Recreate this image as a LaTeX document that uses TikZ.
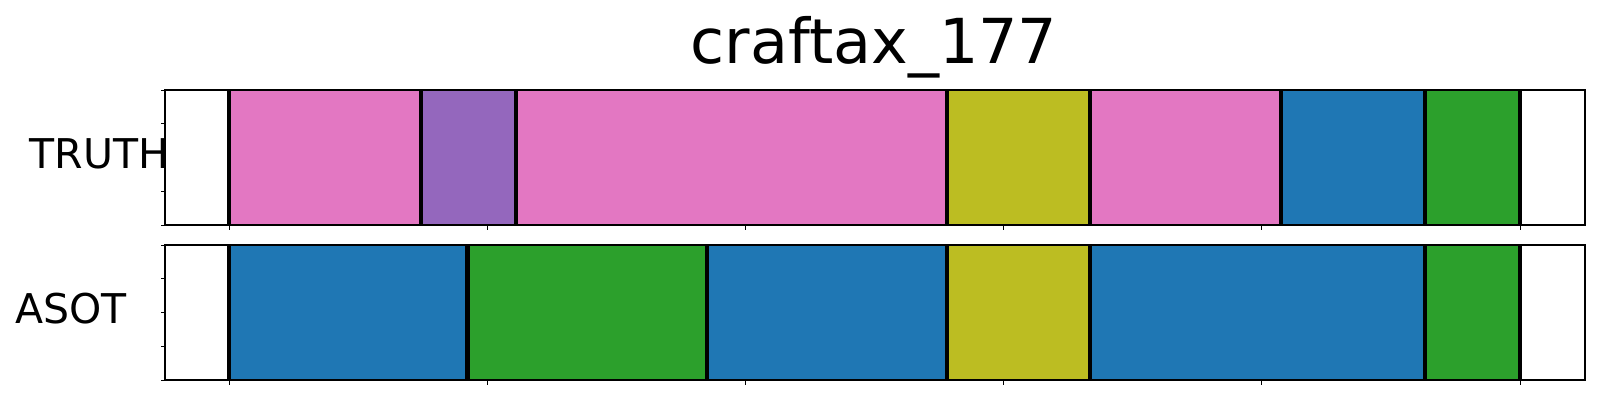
\documentclass[tikz,border=0pt]{standalone}
\usepackage{fontspec}
\setmainfont{DejaVu Sans}
\definecolor{tpink}{HTML}{E377C2}
\definecolor{tpurple}{HTML}{9467BD}
\definecolor{tolive}{HTML}{BCBD22}
\definecolor{tblue}{HTML}{1F77B4}
\definecolor{tgreen}{HTML}{2CA02C}
\tikzset{
  seg/.style={draw=#1!85!black, line width=0.4pt, fill=#1},
  bound/.style={line width=2.1pt, black},
  frame/.style={line width=0.65pt, black},
  tickmark/.style={line width=0.45pt, black},
  rowlabel/.style={font=\fontsize{20.5pt}{24pt}\selectfont, anchor=base west, inner sep=0pt},
  titlelabel/.style={font=\fontsize{31pt}{37pt}\selectfont, anchor=base, inner sep=0pt}
}
\begin{document}
\begin{tikzpicture}[x=0.5pt, y=-0.5pt]
\useasboundingbox (0,0) rectangle (1600,400);
% title
\node[titlelabel] (title) at (874,63.3) {craftax\_177};
% ---------- TRUTH row ----------
\def\ta{90}\def\tb{225}
\fill[white] (165,\ta) rectangle (1585,\tb);
\path[seg=tpink]   (229,\ta)   rectangle (420.7,\tb);
\path[seg=tpurple] (420.7,\ta) rectangle (516,\tb);
\path[seg=tpink]   (516,\ta)   rectangle (946.6,\tb);
\path[seg=tolive]  (946.6,\ta) rectangle (1089.7,\tb);
\path[seg=tpink]   (1089.7,\ta) rectangle (1280.8,\tb);
\path[seg=tblue]   (1280.8,\ta) rectangle (1424.6,\tb);
\path[seg=tgreen]  (1424.6,\ta) rectangle (1520,\tb);
\foreach \x in {229,420.7,516,946.6,1089.7,1280.8,1424.6,1520}
  \draw[bound] (\x,\ta) -- (\x,\tb);
\draw[frame] (165,\ta) rectangle (1585,\tb);
\foreach \y in {90,123.75,157.5,191.25,225}
  \draw[tickmark] (165,\y) -- (160.5,\y);
\foreach \x in {229,487.2,745.4,1003.6,1261.8,1520}
  \draw[tickmark] (\x,\tb) -- (\x,230);
\node[rowlabel] (truth) at (29.3,168.3) {TRUTH};
% ---------- ASOT row ----------
\def\ba{245}\def\bb{380}
\fill[white] (165,\ba) rectangle (1585,\bb);
\path[seg=tblue]   (229,\ba)   rectangle (467.5,\bb);
\path[seg=tgreen]  (467.5,\ba) rectangle (707.3,\bb);
\path[seg=tblue]   (707.3,\ba) rectangle (946.6,\bb);
\path[seg=tolive]  (946.6,\ba) rectangle (1089.7,\bb);
\path[seg=tblue]   (1089.7,\ba) rectangle (1424.6,\bb);
\path[seg=tgreen]  (1424.6,\ba) rectangle (1520,\bb);
\foreach \x in {229,467.5,707.3,946.6,1089.7,1424.6,1520}
  \draw[bound] (\x,\ba) -- (\x,\bb);
\draw[frame] (165,\ba) rectangle (1585,\bb);
\foreach \y in {245,278.75,312.5,346.25,380}
  \draw[tickmark] (165,\y) -- (160.5,\y);
\foreach \x in {229,487.2,745.4,1003.6,1261.8,1520}
  \draw[tickmark] (\x,\bb) -- (\x,385);
\node[rowlabel] (asot) at (15,323.3) {ASOT};
\end{tikzpicture}
\end{document}
